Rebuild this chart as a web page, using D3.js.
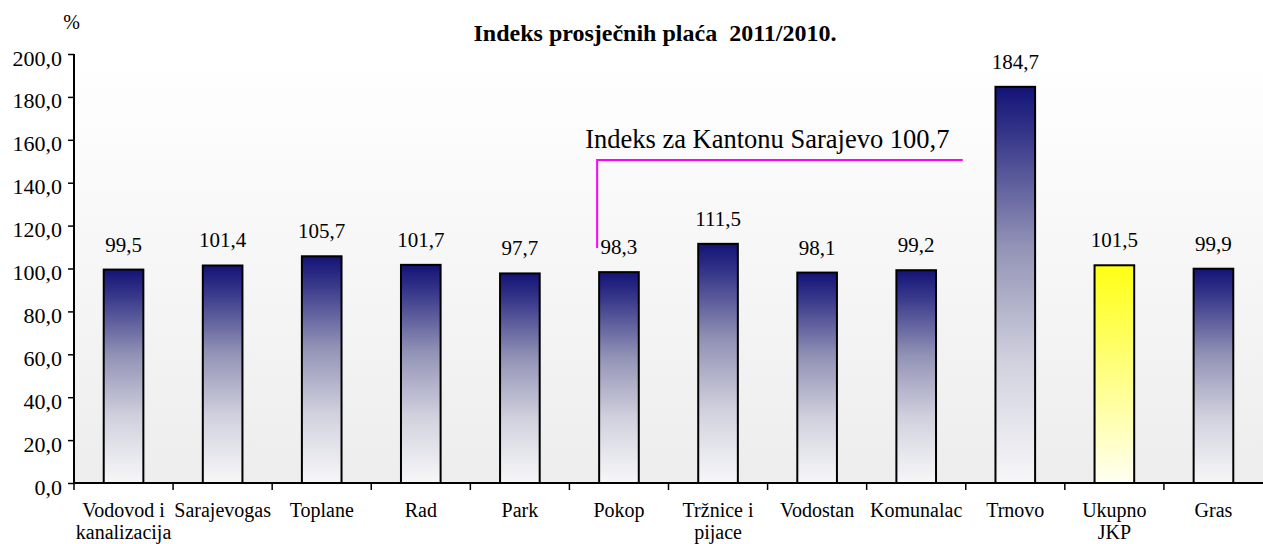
<!DOCTYPE html>
<html>
<head>
<meta charset="utf-8">
<script src="https://cdn.jsdelivr.net/npm/d3@7"></script>
<style>
  body { margin: 0; background: #fff; }
  svg text { font-family: "Liberation Serif", "Times New Roman", Times, serif; }
</style>
</head>
<body>
<script>
// Data
//= ================================
var categories = ["Vodovod i\nkanalizacija", "Sarajevogas", "Toplane", "Rad", "Park", "Pokop",
  "Tržnice i\npijace", "Vodostan", "Komunalac", "Trnovo", "Ukupno\nJKP", "Gras"];
var values = [99.5, 101.4, 105.7, 101.7, 97.7, 98.3, 111.5, 98.1, 99.2, 184.7, 101.5, 99.9];
var highlighted = ["Ukupno\nJKP"];
var yTicks = [0, 20, 40, 60, 80, 100, 120, 140, 160, 180, 200];
var cantonIndex = 100.7;
// annotation line: from Pokop (bottom, top) across to the Trnovo band
var annoLevels = [109.6, 150.6];

var data = categories.map((c, i) => ({ cat: c, val: values[i] }));
var fmt = v => d3.format(".1f")(v).replace(".", ",");
var serif = "'Liberation Serif', 'Times New Roman', Times, serif";

// Chart setup
//= ================================
var svgWidth = 1263;
var svgHeight = 544;
var margin = { top: 54, right: 0, bottom: 61, left: 74 };
var width = svgWidth - margin.left - margin.right;
var height = svgHeight - margin.top - margin.bottom;

var svg = d3.select("body").append("svg")
  .attr("width", svgWidth)
  .attr("height", svgHeight)
  .style("font-family", serif);

var defs = svg.append("defs");

var bg = defs.append("linearGradient").attr("id", "bgGrad")
  .attr("x1", 0).attr("y1", 0).attr("x2", 0).attr("y2", 1);
bg.append("stop").attr("offset", 0).attr("stop-color", "#ffffff");
bg.append("stop").attr("offset", 1).attr("stop-color", "#ededed");

var blue = defs.append("linearGradient").attr("id", "blueGrad")
  .attr("x1", 0).attr("y1", 0).attr("x2", 0).attr("y2", 1);
[[0, "#131377"], [0.12, "#36368a"], [0.4, "#9292b6"], [0.7, "#d2d2df"], [1, "#f7f7f9"]]
  .forEach(s => blue.append("stop").attr("offset", s[0]).attr("stop-color", s[1]));

var yellow = defs.append("linearGradient").attr("id", "yellowGrad")
  .attr("x1", 0).attr("y1", 0).attr("x2", 0).attr("y2", 1);
yellow.append("stop").attr("offset", 0).attr("stop-color", "#ffff14");
yellow.append("stop").attr("offset", 1).attr("stop-color", "#fffff2");

var chartGroup = svg.append("g")
  .attr("transform", `translate(${margin.left}, ${margin.top})`);

// Scales
//= ================================
var xScale = d3.scaleBand()
  .domain(categories)
  .range([0, width])
  .paddingInner(0.6)
  .paddingOuter(0.3);

var yScale = d3.scaleLinear()
  .domain([0, 200])
  .range([height, 0]);

// plot background
chartGroup.append("rect")
  .attr("x", 0).attr("y", 0)
  .attr("width", width).attr("height", height)
  .attr("fill", "url(#bgGrad)");

// Bars
//= ================================
chartGroup.selectAll("rect.bar")
  .data(data)
  .enter()
  .append("rect")
  .attr("class", "bar")
  .attr("x", d => xScale(d.cat))
  .attr("y", d => yScale(d.val))
  .attr("width", xScale.bandwidth())
  .attr("height", d => height - yScale(d.val))
  .attr("fill", d => highlighted.includes(d.cat) ? "url(#yellowGrad)" : "url(#blueGrad)")
  .attr("stroke", "#000")
  .attr("stroke-width", 2);

// value labels
chartGroup.append("g")
  .selectAll("text")
  .data(data)
  .enter()
  .append("text")
  .attr("x", d => xScale(d.cat) + xScale.bandwidth() / 2)
  .attr("y", d => yScale(d.val) - 18)
  .attr("text-anchor", "middle")
  .attr("font-size", "21px")
  .attr("fill", "#000")
  .text(d => fmt(d.val));

// Axes
//= ================================
var leftAxis = d3.axisLeft(yScale)
  .tickValues(yTicks)
  .tickSize(6)
  .tickPadding(6)
  .tickFormat(fmt);

var yAxisG = chartGroup.append("g").call(leftAxis)
  .attr("font-family", serif);
yAxisG.select(".domain").attr("stroke", "#000").attr("stroke-width", 2)
  .attr("d", `M0,0V${height}`);
yAxisG.selectAll(".tick line").attr("stroke", "#000").attr("stroke-width", 1.5);
yAxisG.selectAll(".tick text")
  .attr("font-size", "22px")
  .attr("fill", "#000")
  .attr("dy", "0.5em");

var xAxisG = chartGroup.append("g").attr("transform", `translate(0, ${height})`);
xAxisG.append("line")
  .attr("x1", 0).attr("x2", width)
  .attr("stroke", "#000").attr("stroke-width", 2);

// ticks between categories
xAxisG.selectAll("line.sep")
  .data(categories)
  .enter()
  .append("line")
  .attr("class", "sep")
  .attr("x1", d => xScale(d) - xScale.step() * 0.3)
  .attr("x2", d => xScale(d) - xScale.step() * 0.3)
  .attr("y1", 0).attr("y2", 7)
  .attr("stroke", "#000").attr("stroke-width", 1.5);

var catLabels = xAxisG.selectAll("text.cat")
  .data(categories)
  .enter()
  .append("text")
  .attr("class", "cat")
  .attr("text-anchor", "middle")
  .attr("font-size", "20px")
  .attr("fill", "#000");

catLabels.each(function(d) {
  var t = d3.select(this);
  d.split("\n").forEach((line, i) => {
    t.append("tspan")
      .attr("x", xScale(d) + xScale.bandwidth() / 2)
      .attr("y", 34 + i * 22)
      .text(line);
  });
});

// Annotation
//= ================================
var annoX1 = xScale("Pokop") - 2;
var annoX2 = xScale("Trnovo") - xScale.step() * 0.3 - 3;
chartGroup.append("path")
  .attr("d", `M${annoX1},${yScale(annoLevels[0])}V${yScale(annoLevels[1])}H${annoX2}`)
  .attr("fill", "none")
  .attr("stroke", "#ff00ff")
  .attr("stroke-width", 2);

chartGroup.append("text")
  .attr("x", annoX1 - 12)
  .attr("y", yScale(annoLevels[1]) - 12)
  .attr("font-size", "26.5px")
  .attr("fill", "#000")
  .text("Indeks za Kantonu Sarajevo " + fmt(cantonIndex));

// Title and unit
//= ================================
svg.append("text")
  .attr("x", 655)
  .attr("y", 41)
  .attr("text-anchor", "middle")
  .attr("font-size", "24px")
  .style("font-weight", "bold")
  .style("white-space", "pre")
  .attr("fill", "#000")
  .text("Indeks prosječnih plaća  2011/2010.");

svg.append("text")
  .attr("x", 71.5)
  .attr("y", 29)
  .attr("text-anchor", "middle")
  .attr("font-size", "20px")
  .attr("fill", "#000")
  .text("%");
</script>
</body>
</html>
